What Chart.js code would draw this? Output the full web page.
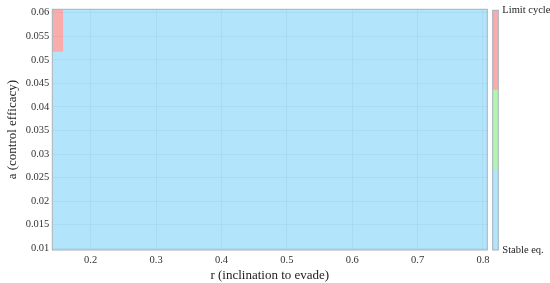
<!DOCTYPE html>
<html>
<head>
<meta charset="utf-8">
<script src="https://cdn.jsdelivr.net/npm/chart.js@4.4.1/dist/chart.umd.min.js"></script>
<style>
  html, body { margin: 0; padding: 0; background: #fff; }
  #wrap { position: relative; width: 550px; height: 283px; }
  #main { position: absolute; left: 0; top: 0; width: 500px; height: 283px; }
  #bar { position: absolute; left: 488px; top: 0; width: 62px; height: 283px; }
</style>
</head>
<body>
<div id="wrap">
  <div id="main"><canvas id="mapChart"></canvas></div>
  <div id="bar"><canvas id="barChart"></canvas></div>
</div>
<script>
// regime map: cell edges along r and a, regime code per cell (row = a band, col = r band)
const rEdges = [0.1413, 0.1582, 0.8066];
const aEdges = [0.00964, 0.05172, 0.06072];
const regimeGrid = [
  [0, 0],   // a from 0.0096 to 0.0517
  [2, 0]    // a from 0.0517 to 0.0607
];

// regimes: 0 stable eq., 1 (unlabelled), 2 limit cycle
const regimeColors = ['rgb(178,228,252)', 'rgb(180,244,176)', 'rgb(250,172,172)'];
const colorbarTickValues = [0, 3];
const colorbarTickLabels = ['Stable eq.', 'Limit cycle'];

const xTicks = [0.2, 0.3, 0.4, 0.5, 0.6, 0.7, 0.8];
const yTicks = [0.01, 0.015, 0.02, 0.025, 0.03, 0.035, 0.04, 0.045, 0.05, 0.055, 0.06];

const serif = "'Liberation Serif', 'Times New Roman', serif";
const gridColor = 'rgba(60,80,100,0.06)';
const boxColor = '#a3afb8';

// one filled band: top edge as a 2-point line, filled down to the bottom edge
function band(r0, r1, a0, a1, code, order) {
  return {
    data: [{x: r0, y: a1}, {x: r1, y: a1}],
    fill: {value: a0},
    backgroundColor: regimeColors[code],
    borderWidth: 0,
    pointRadius: 0,
    order: order
  };
}

// whole domain in the base regime first, other regimes on top (avoids seams)
const cellSets = [band(rEdges[0], rEdges[rEdges.length - 1], aEdges[0], aEdges[aEdges.length - 1], 0, 2)];
regimeGrid.forEach(function (row, i) {
  row.forEach(function (code, j) {
    if (code !== 0) cellSets.push(band(rEdges[j], rEdges[j + 1], aEdges[i], aEdges[i + 1], code, 1));
  });
});

var boxPlugin = {
  id: 'box',
  afterDraw: function (chart) {
    var a = chart.chartArea, ctx = chart.ctx;
    ctx.save();
    ctx.strokeStyle = boxColor;
    ctx.lineWidth = 1;
    ctx.strokeRect(a.left, a.top, a.right - a.left, a.bottom - a.top);
    ctx.restore();
  }
};

new Chart(document.getElementById('mapChart'), {
  type: 'line',
  data: { datasets: cellSets },
  plugins: [boxPlugin],
  options: {
    responsive: true,
    maintainAspectRatio: false,
    animation: false,
    events: [],
    layout: { padding: { top: 9.3, right: 12.7, left: 0, bottom: 0 } },
    plugins: { legend: { display: false }, tooltip: { enabled: false } },
    scales: {
      x: {
        type: 'linear',
        min: rEdges[0],
        max: rEdges[rEdges.length - 1],
        afterBuildTicks: function (s) { s.ticks = xTicks.map(function (v) { return {value: v}; }); },
        afterFit: function (s) { s.height = 33; },
        grid: { color: gridColor, drawTicks: false, z: 1 },
        border: { display: false },
        ticks: {
          padding: 4,
          color: '#333',
          font: { family: serif, size: 10.5 },
          callback: function (v) { return String(v); }
        },
        title: {
          display: true,
          text: 'r (inclination to evade)',
          color: '#222',
          font: { family: serif, size: 13 },
          padding: { top: 0, bottom: 0 }
        }
      },
      y: {
        type: 'linear',
        min: aEdges[0],
        max: aEdges[aEdges.length - 1],
        afterBuildTicks: function (s) { s.ticks = yTicks.map(function (v) { return {value: v}; }); },
        afterFit: function (s) { s.width = 52.3; },
        grid: { color: gridColor, drawTicks: false, z: 1 },
        border: { display: false },
        ticks: {
          padding: 3,
          color: '#333',
          font: { family: serif, size: 10.5 },
          callback: function (v) { return String(+v.toFixed(3)); }
        },
        title: {
          display: true,
          text: 'a (control efficacy)',
          color: '#222',
          font: { family: serif, size: 13 },
          padding: { top: 4.7, bottom: 0 }
        }
      }
    }
  }
});

// colorbar: one stacked bar, one segment per regime
new Chart(document.getElementById('barChart'), {
  type: 'bar',
  data: {
    labels: [''],
    datasets: regimeColors.map(function (c) {
      return { data: [1], backgroundColor: c, borderWidth: 0, barPercentage: 1, categoryPercentage: 1 };
    })
  },
  plugins: [boxPlugin],
  options: {
    responsive: true,
    maintainAspectRatio: false,
    animation: false,
    events: [],
    layout: { padding: { top: 9.3, right: 0, left: 4.7, bottom: 33 } },
    plugins: { legend: { display: false }, tooltip: { enabled: false } },
    scales: {
      x: { stacked: true, display: false },
      y: {
        stacked: true,
        position: 'right',
        min: 0,
        max: regimeColors.length,
        afterBuildTicks: function (s) { s.ticks = colorbarTickValues.map(function (v) { return {value: v}; }); },
        afterFit: function (s) { s.width = 51.7; },
        grid: { display: false, drawTicks: false },
        border: { display: false },
        ticks: {
          padding: 4,
          color: '#222',
          font: { family: serif, size: 10.5 },
          callback: function (v) { return colorbarTickLabels[colorbarTickValues.indexOf(v)]; }
        }
      }
    }
  }
});
</script>
</body>
</html>
